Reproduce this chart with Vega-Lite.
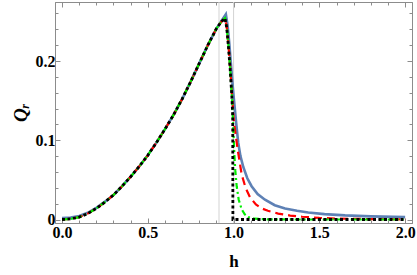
{
  "$schema": "https://vega.github.io/schema/vega-lite/v6.json",
  "width": 357,
  "height": 221,
  "autosize": "none",
  "padding": {"left": 55, "top": 2, "right": 5, "bottom": 52},
  "config": {
    "view": {"stroke": null},
    "axis": {
      "domainColor": "#8c8c8c",
      "tickColor": "#8c8c8c",
      "grid": false,
      "labelFont": "Liberation Serif",
      "labelFontWeight": "bold",
      "labelFontSize": 16,
      "labelColor": "#000000",
      "titleFont": "Liberation Serif",
      "titleFontWeight": "bold",
      "titleFontSize": 17,
      "titleColor": "#000000"
    }
  },
  "datasets": {
    "vlines": [{"h": 0.915}, {"h": 1.0}],
    "curves": [
      {"s": "blue", "h": 0, "Q": 0.002}, {"s": "blue", "h": 0.05, "Q": 0.0025}, {"s": "blue", "h": 0.1, "Q": 0.0045}, {"s": "blue", "h": 0.15, "Q": 0.0085}, {"s": "blue", "h": 0.2, "Q": 0.0148}, {"s": "blue", "h": 0.25, "Q": 0.0225}, {"s": "blue", "h": 0.3, "Q": 0.031}, {"s": "blue", "h": 0.35, "Q": 0.042}, {"s": "blue", "h": 0.4, "Q": 0.054}, {"s": "blue", "h": 0.45, "Q": 0.067}, {"s": "blue", "h": 0.5, "Q": 0.081}, {"s": "blue", "h": 0.55, "Q": 0.097}, {"s": "blue", "h": 0.6, "Q": 0.114}, {"s": "blue", "h": 0.65, "Q": 0.132}, {"s": "blue", "h": 0.7, "Q": 0.152}, {"s": "blue", "h": 0.75, "Q": 0.174}, {"s": "blue", "h": 0.8, "Q": 0.197}, {"s": "blue", "h": 0.85, "Q": 0.22}, {"s": "blue", "h": 0.9, "Q": 0.241}, {"s": "blue", "h": 0.93, "Q": 0.251}, {"s": "blue", "h": 0.955, "Q": 0.259},
      {"s": "blue", "h": 0.965, "Q": 0.245}, {"s": "blue", "h": 0.975, "Q": 0.222}, {"s": "blue", "h": 0.985, "Q": 0.195}, {"s": "blue", "h": 0.995, "Q": 0.168}, {"s": "blue", "h": 1.0, "Q": 0.156}, {"s": "blue", "h": 1.008, "Q": 0.138}, {"s": "blue", "h": 1.015, "Q": 0.122}, {"s": "blue", "h": 1.027, "Q": 0.097}, {"s": "blue", "h": 1.04, "Q": 0.08}, {"s": "blue", "h": 1.057, "Q": 0.066}, {"s": "blue", "h": 1.08, "Q": 0.052}, {"s": "blue", "h": 1.105, "Q": 0.042}, {"s": "blue", "h": 1.14, "Q": 0.032}, {"s": "blue", "h": 1.183, "Q": 0.025}, {"s": "blue", "h": 1.24, "Q": 0.018}, {"s": "blue", "h": 1.3, "Q": 0.014}, {"s": "blue", "h": 1.37, "Q": 0.011}, {"s": "blue", "h": 1.435, "Q": 0.0088}, {"s": "blue", "h": 1.53, "Q": 0.0068}, {"s": "blue", "h": 1.65, "Q": 0.0052}, {"s": "blue", "h": 1.8, "Q": 0.004}, {"s": "blue", "h": 2.0, "Q": 0.003},

      {"s": "red", "h": 0, "Q": 0}, {"s": "red", "h": 0.05, "Q": 0.0008}, {"s": "red", "h": 0.1, "Q": 0.003}, {"s": "red", "h": 0.15, "Q": 0.0075}, {"s": "red", "h": 0.2, "Q": 0.014}, {"s": "red", "h": 0.25, "Q": 0.022}, {"s": "red", "h": 0.3, "Q": 0.031}, {"s": "red", "h": 0.35, "Q": 0.042}, {"s": "red", "h": 0.4, "Q": 0.054}, {"s": "red", "h": 0.45, "Q": 0.067}, {"s": "red", "h": 0.5, "Q": 0.081}, {"s": "red", "h": 0.55, "Q": 0.097}, {"s": "red", "h": 0.6, "Q": 0.114}, {"s": "red", "h": 0.65, "Q": 0.132}, {"s": "red", "h": 0.7, "Q": 0.152}, {"s": "red", "h": 0.75, "Q": 0.174}, {"s": "red", "h": 0.8, "Q": 0.197}, {"s": "red", "h": 0.85, "Q": 0.22}, {"s": "red", "h": 0.9, "Q": 0.241}, {"s": "red", "h": 0.93, "Q": 0.25}, {"s": "red", "h": 0.95, "Q": 0.254},
      {"s": "red", "h": 0.96, "Q": 0.243}, {"s": "red", "h": 0.97, "Q": 0.22}, {"s": "red", "h": 0.98, "Q": 0.192}, {"s": "red", "h": 0.99, "Q": 0.16}, {"s": "red", "h": 1.0, "Q": 0.128}, {"s": "red", "h": 1.01, "Q": 0.11}, {"s": "red", "h": 1.024, "Q": 0.088}, {"s": "red", "h": 1.047, "Q": 0.057}, {"s": "red", "h": 1.07, "Q": 0.04}, {"s": "red", "h": 1.096, "Q": 0.028}, {"s": "red", "h": 1.13, "Q": 0.019}, {"s": "red", "h": 1.164, "Q": 0.014}, {"s": "red", "h": 1.2, "Q": 0.011}, {"s": "red", "h": 1.26, "Q": 0.0075}, {"s": "red", "h": 1.33, "Q": 0.005}, {"s": "red", "h": 1.4, "Q": 0.0035}, {"s": "red", "h": 1.5, "Q": 0.002}, {"s": "red", "h": 1.6, "Q": 0.0012}, {"s": "red", "h": 1.8, "Q": 0.0005}, {"s": "red", "h": 2.0, "Q": 0.0002},

      {"s": "green", "h": 0, "Q": 0}, {"s": "green", "h": 0.05, "Q": 0.0008}, {"s": "green", "h": 0.1, "Q": 0.003}, {"s": "green", "h": 0.15, "Q": 0.0075}, {"s": "green", "h": 0.2, "Q": 0.014}, {"s": "green", "h": 0.25, "Q": 0.022}, {"s": "green", "h": 0.3, "Q": 0.031}, {"s": "green", "h": 0.35, "Q": 0.042}, {"s": "green", "h": 0.4, "Q": 0.054}, {"s": "green", "h": 0.45, "Q": 0.067}, {"s": "green", "h": 0.5, "Q": 0.081}, {"s": "green", "h": 0.55, "Q": 0.097}, {"s": "green", "h": 0.6, "Q": 0.114}, {"s": "green", "h": 0.65, "Q": 0.132}, {"s": "green", "h": 0.7, "Q": 0.152}, {"s": "green", "h": 0.75, "Q": 0.174}, {"s": "green", "h": 0.8, "Q": 0.197}, {"s": "green", "h": 0.85, "Q": 0.22}, {"s": "green", "h": 0.9, "Q": 0.241}, {"s": "green", "h": 0.93, "Q": 0.25}, {"s": "green", "h": 0.95, "Q": 0.254},
      {"s": "green", "h": 0.96, "Q": 0.242}, {"s": "green", "h": 0.97, "Q": 0.219}, {"s": "green", "h": 0.98, "Q": 0.19}, {"s": "green", "h": 0.99, "Q": 0.155}, {"s": "green", "h": 0.995, "Q": 0.132}, {"s": "green", "h": 1.0, "Q": 0.105}, {"s": "green", "h": 1.005, "Q": 0.08}, {"s": "green", "h": 1.01, "Q": 0.062}, {"s": "green", "h": 1.018, "Q": 0.042}, {"s": "green", "h": 1.03, "Q": 0.025}, {"s": "green", "h": 1.047, "Q": 0.013}, {"s": "green", "h": 1.065, "Q": 0.0065}, {"s": "green", "h": 1.086, "Q": 0.003}, {"s": "green", "h": 1.12, "Q": 0.001}, {"s": "green", "h": 1.2, "Q": 0.0002}, {"s": "green", "h": 1.4, "Q": 0}, {"s": "green", "h": 2.0, "Q": 0},

      {"s": "black", "h": 0, "Q": 0}, {"s": "black", "h": 0.05, "Q": 0.0008}, {"s": "black", "h": 0.1, "Q": 0.003}, {"s": "black", "h": 0.15, "Q": 0.0075}, {"s": "black", "h": 0.2, "Q": 0.014}, {"s": "black", "h": 0.25, "Q": 0.022}, {"s": "black", "h": 0.3, "Q": 0.031}, {"s": "black", "h": 0.35, "Q": 0.042}, {"s": "black", "h": 0.4, "Q": 0.054}, {"s": "black", "h": 0.45, "Q": 0.067}, {"s": "black", "h": 0.5, "Q": 0.081}, {"s": "black", "h": 0.55, "Q": 0.097}, {"s": "black", "h": 0.6, "Q": 0.114}, {"s": "black", "h": 0.65, "Q": 0.132}, {"s": "black", "h": 0.7, "Q": 0.152}, {"s": "black", "h": 0.75, "Q": 0.174}, {"s": "black", "h": 0.8, "Q": 0.197}, {"s": "black", "h": 0.85, "Q": 0.22}, {"s": "black", "h": 0.9, "Q": 0.241}, {"s": "black", "h": 0.93, "Q": 0.25}, {"s": "black", "h": 0.95, "Q": 0.254},
      {"s": "black", "h": 0.96, "Q": 0.242}, {"s": "black", "h": 0.97, "Q": 0.218}, {"s": "black", "h": 0.98, "Q": 0.19}, {"s": "black", "h": 0.99, "Q": 0.155}, {"s": "black", "h": 0.995, "Q": 0.13}, {"s": "black", "h": 0.996, "Q": 0}, {"s": "black", "h": 1.5, "Q": 0}, {"s": "black", "h": 2.0, "Q": 0}
    ]
  },
  "resolve": {"axis": {"x": "independent", "y": "independent"}},
  "layer": [
    {
      "data": {"name": "vlines"},
      "mark": {"type": "rule", "color": "#d3d3d3", "strokeWidth": 1},
      "encoding": {
        "x": {"field": "h", "type": "quantitative",
          "scale": {"domain": [-0.041, 2.04], "nice": false, "zero": false},
          "axis": {"orient": "bottom", "values": [0,0.1,0.2,0.3,0.4,0.5,0.6,0.7,0.8,0.9,1,1.1,1.2,1.3,1.4,1.5,1.6,1.7,1.8,1.9,2], "labels": false, "tickSize": -3, "title": null}}
      }
    },
    {
      "data": {"name": "curves"},
      "transform": [{"filter": "datum.s === 'blue'"}],
      "mark": {"type": "line", "color": "#5e81b5", "strokeWidth": 2.6, "clip": true},
      "encoding": {
        "x": {"field": "h", "type": "quantitative",
          "axis": {"orient": "bottom", "values": [0, 0.5, 1, 1.5, 2], "format": ".1f", "tickSize": -5, "labelPadding": 6, "title": "h", "titlePadding": 13}},
        "y": {"field": "Q", "type": "quantitative",
          "scale": {"domain": [-0.0044, 0.2745], "nice": false, "zero": false},
          "axis": {"orient": "left", "values": [0, 0.1, 0.2], "labelExpr": "datum.value == 0 ? '0' : format(datum.value, '.1f')", "tickSize": -5, "labelPadding": 5, "title": "Qᵣ", "titleFontStyle": "italic", "titleFontSize": 19, "titlePadding": 5}}
      }
    },
    {
      "data": {"name": "curves"},
      "transform": [{"filter": "datum.s === 'red'"}],
      "mark": {"type": "line", "color": "#ff0000", "strokeWidth": 2.2, "strokeDash": [8, 5], "clip": true},
      "encoding": {
        "x": {"field": "h", "type": "quantitative",
          "axis": {"orient": "top", "values": [0, 0.5, 1, 1.5, 2], "labels": false, "tickSize": -5, "title": null}},
        "y": {"field": "Q", "type": "quantitative",
          "axis": {"orient": "left", "values": [0.02,0.04,0.06,0.08,0.12,0.14,0.16,0.18,0.22,0.24,0.26], "labels": false, "tickSize": -3, "title": null}}
      }
    },
    {
      "data": {"name": "curves"},
      "transform": [{"filter": "datum.s === 'green'"}],
      "mark": {"type": "line", "color": "#00ee00", "strokeWidth": 2.2, "strokeDash": [6, 3, 2, 3], "clip": true},
      "encoding": {
        "x": {"field": "h", "type": "quantitative",
          "axis": {"orient": "top", "values": [0,0.1,0.2,0.3,0.4,0.6,0.7,0.8,0.9,1.1,1.2,1.3,1.4,1.6,1.7,1.8,1.9], "labels": false, "tickSize": -3, "title": null}},
        "y": {"field": "Q", "type": "quantitative",
          "axis": {"orient": "right", "values": [0, 0.1, 0.2], "labels": false, "tickSize": -5, "title": null}}
      }
    },
    {
      "data": {"name": "curves"},
      "transform": [{"filter": "datum.s === 'black'"}],
      "mark": {"type": "line", "color": "#000000", "strokeWidth": 2.8, "strokeDash": [3, 2.5], "clip": true},
      "encoding": {
        "x": {"field": "h", "type": "quantitative", "axis": null},
        "y": {"field": "Q", "type": "quantitative",
          "axis": {"orient": "right", "values": [0.02,0.04,0.06,0.08,0.12,0.14,0.16,0.18,0.22,0.24,0.26], "labels": false, "tickSize": -3, "title": null}}
      }
    }
  ]
}
